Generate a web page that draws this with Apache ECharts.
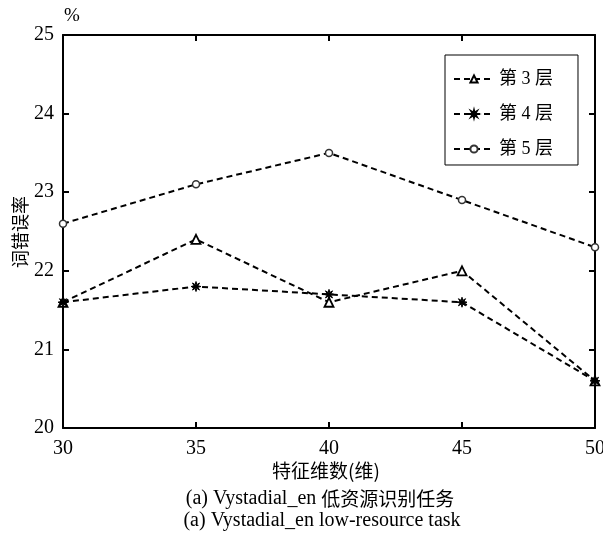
<!DOCTYPE html>
<html><head><meta charset="utf-8">
<script src="https://cdn.jsdelivr.net/npm/echarts@6/dist/echarts.min.js"></script>
<style>html,body{margin:0;padding:0;background:#fff}#c{width:603px;height:543px}</style>
</head><body><div id="c"></div>
<script>
const dims = [30, 35, 40, 45, 50];
const layer3 = [21.6, 22.4, 21.6, 22.0, 20.6];
const layer4 = [21.6, 21.8, 21.7, 21.6, 20.6];
const layer5 = [22.6, 23.1, 23.5, 22.9, 22.3];
const seriesNames = ['第 3 层', '第 4 层', '第 5 层'];
const xTicks = [30, 35, 40, 45, 50];
const yTicks = [20, 21, 22, 23, 24, 25];

const FONT = '"Liberation Serif", "Noto Sans CJK SC", serif';
const CJK = '"Noto Sans CJK SC"';
const star = 'path://M20,10L13.7,11.53L17.07,17.07L11.53,13.7L10,20L8.47,13.7L2.93,17.07L6.3,11.53L0,10L6.3,8.47L2.93,2.93L8.47,6.3L10,0L11.53,6.3L17.07,2.93L13.7,8.47Z';

function pairs(v){ return dims.map((d,i)=>[d, v[i]]); }
const lineStyle = {color:'#000', width:2, type:[6,4]};
const axisCommon = {
  axisLine:{show:true, lineStyle:{color:'#000', width:2}},
  axisTick:{show:true, inside:true, length:6, lineStyle:{color:'#000', width:2}},
  splitLine:{show:false}
};
const chart = echarts.init(document.getElementById('c'));
chart.setOption({
  animation:false,
  backgroundColor:'#fff',
  textStyle:{fontFamily:FONT},
  grid:{left:63, top:35, width:532, height:393, outerBoundsMode:'none', containLabel:false},
  xAxis:[
    Object.assign({type:'value', min:xTicks[0], max:xTicks[xTicks.length-1], interval:5, position:'bottom',
      axisLabel:{color:'#000', fontSize:20, fontFamily:FONT, margin:11}}, axisCommon),
    Object.assign({type:'value', min:xTicks[0], max:xTicks[xTicks.length-1], interval:5, position:'top',
      axisLabel:{show:false}}, axisCommon)
  ],
  yAxis:[
    Object.assign({type:'value', min:yTicks[0], max:yTicks[yTicks.length-1], interval:1, position:'left',
      axisLabel:{color:'#000', fontSize:20, fontFamily:FONT, margin:9}}, axisCommon),
    Object.assign({type:'value', min:yTicks[0], max:yTicks[yTicks.length-1], interval:1, position:'right',
      axisLabel:{show:false}}, axisCommon)
  ],
  legend:{
    left:445, top:55, orient:'vertical',
    padding:[15,25,7,8], itemGap:17,
    borderColor:'#000', borderWidth:1, backgroundColor:'#fff',
    itemWidth:40, itemHeight:9,
    textStyle:{color:'#000', fontSize:18, fontFamily:FONT},
    data:seriesNames
  },
  series:[
    {name:seriesNames[0], type:'line', data:pairs(layer3), symbol:'triangle', symbolSize:9,
      itemStyle:{color:'#fff', borderColor:'#000', borderWidth:1.8}, lineStyle:lineStyle},
    {name:seriesNames[1], type:'line', data:pairs(layer4), symbol:star, symbolSize:10,
      itemStyle:{color:'#000', borderColor:'#000', borderWidth:1}, lineStyle:lineStyle},
    {name:seriesNames[2], type:'line', data:pairs(layer5), symbol:'circle', symbolSize:7,
      itemStyle:{color:'#fff', borderColor:'#333', borderWidth:1.5}, lineStyle:lineStyle}
  ],
  graphic:[
    {type:'text', left:64, top:7, style:{text:'%', font:'19px '+FONT, fill:'#000'}},
    {type:'text', x:20, y:232, rotation:Math.PI/2, style:{text:'词错误率', font:'18px '+CJK, fill:'#000', align:'center', verticalAlign:'middle'}},
    {type:'text', x:326, y:471, style:{text:'特征维数(维)', font:'19px '+CJK, fill:'#000', align:'center', verticalAlign:'middle'}},
    {type:'text', x:320, y:499, style:{text:'{a|(a) Vystadial_en }{b|低资源识别任务}', align:'center', verticalAlign:'middle',
      rich:{a:{fontSize:20, fontFamily:FONT, fill:'#000'}, b:{fontSize:19, fontFamily:CJK, fill:'#000'}}}},
    {type:'text', x:322, y:521, style:{text:'(a) Vystadial_en low-resource task', font:'20px '+FONT, fill:'#000', align:'center', verticalAlign:'middle'}}
  ]
});
</script></body></html>
